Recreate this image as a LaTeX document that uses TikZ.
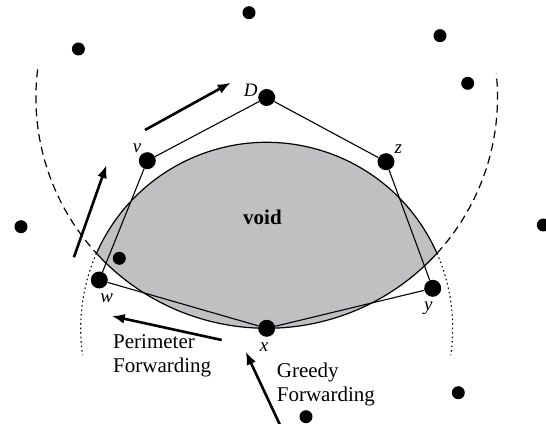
\documentclass[tikz,border=0pt]{standalone}
\usepackage{fontspec}
\setmainfont{Liberation Serif}
\usetikzlibrary{arrows.meta,backgrounds}
\tikzset{>={Latex[length=13pt,width=10pt]}}
\definecolor{voidgray}{RGB}{192,191,194}
\tikzset{
  hop/.style={circle,fill=black,inner sep=0pt,minimum size=17pt},
  dot/.style={circle,fill=black,inner sep=0pt,minimum size=13pt},
  lbl/.style={font=\fontsize{19}{22}\selectfont\itshape,inner sep=0pt},
  txt/.style={font=\fontsize{21}{24}\selectfont,align=left,inner sep=0pt},
  move/.style={->,line width=2.6pt},
  edge/.style={line width=1.1pt},
}

\begin{document}
\begin{tikzpicture}[x=1pt,y=1pt]
  \useasboundingbox (0,0) rectangle (546,423);
  % nodes on the path
  \node[hop] (D) at (266.7,325.5) {};
  \node[hop] (v) at (147.3,262.3) {};
  \node[hop] (z) at (386,261.3) {};
  \node[hop] (w) at (99.3,143) {};
  \node[hop] (y) at (432.7,134.7) {};
  \node[hop] (x) at (266.7,94.7) {};
  % other nodes
  \node[dot] (n1) at (249,410.3) {};
  \node[dot] (n2) at (78.4,374) {};
  \node[dot] (n3) at (440,387.3) {};
  \node[dot] (n4) at (467.7,339.7) {};
  \node[dot] (n5) at (21,196.3) {};
  \node[dot] (n6) at (543.3,198) {};
  \node[dot] (n7) at (119.3,164.7) {};
  \node[dot] (n8) at (458.3,30.3) {};
  \node[dot] (n9) at (306,6.3) {};

  \begin{scope}[on background layer]
    \fill[voidgray,draw=black,line width=1.2pt]
      (D.center) ++(222.48:230.8) arc[start angle=222.48,end angle=317.52,radius=230.8]
      arc[start angle=23.77,end angle=156.23,radius=186] -- cycle;
    \draw[line width=1.2pt,dash pattern=on 8pt off 5pt]
      (D.center) ++(173:230.8) arc[start angle=173,end angle=222.48,radius=230.8];
    \draw[line width=1.2pt,dash pattern=on 8pt off 5pt]
      (D.center) ++(317.52:230.8) arc[start angle=317.52,end angle=366,radius=230.8];
    \draw[line width=1.1pt,dash pattern=on 1.5pt off 3pt]
      (x.center) ++(156.23:186) arc[start angle=156.23,end angle=188.3,radius=186];
    \draw[line width=1.1pt,dash pattern=on 1.5pt off 3pt]
      (x.center) ++(23.77:186) arc[start angle=23.77,end angle=-8.3,radius=186];
  \end{scope}

  \draw[edge] (D) -- (v) -- (w) -- (x) -- (y) -- (z) -- (D);

  \node[lbl] (Dl) at (250.7,332.3) {D};
  \node[lbl] (vl) at (137,275) {v};
  \node[lbl] (zl) at (398.3,273.7) {z};
  \node[lbl] (wl) at (106.7,124.7) {w};
  \node[lbl] (yl) at (428.3,114.7) {y};
  \node[lbl] (xl) at (264,76.3) {x};

  \node[txt,font=\fontsize{21}{24}\selectfont\bfseries] (void) at (262.5,205.5) {void};
  \node[txt,anchor=west] (perim) at (113,67) {Perimeter\\Forwarding};
  \node[txt,anchor=west] (greedy) at (276.7,38.3) {Greedy\\Forwarding};

  % direction arrows
  \coordinate (a1) at (145,293);   \coordinate (b1) at (230.7,340.3);
  \coordinate (a2) at (73.9,165.7); \coordinate (b2) at (106.5,258);
  \coordinate (a3) at (221.7,83);  \coordinate (b3) at (111.7,107);
  \coordinate (a4) at (280,-2);    \coordinate (b4) at (245.7,71.3);
  \draw[move] (a1) -- (b1);
  \draw[move] (a2) -- (b2);
  \draw[move] (a3) -- (b3);
  \draw[move] (a4) -- (b4);
\end{tikzpicture}
\end{document}
